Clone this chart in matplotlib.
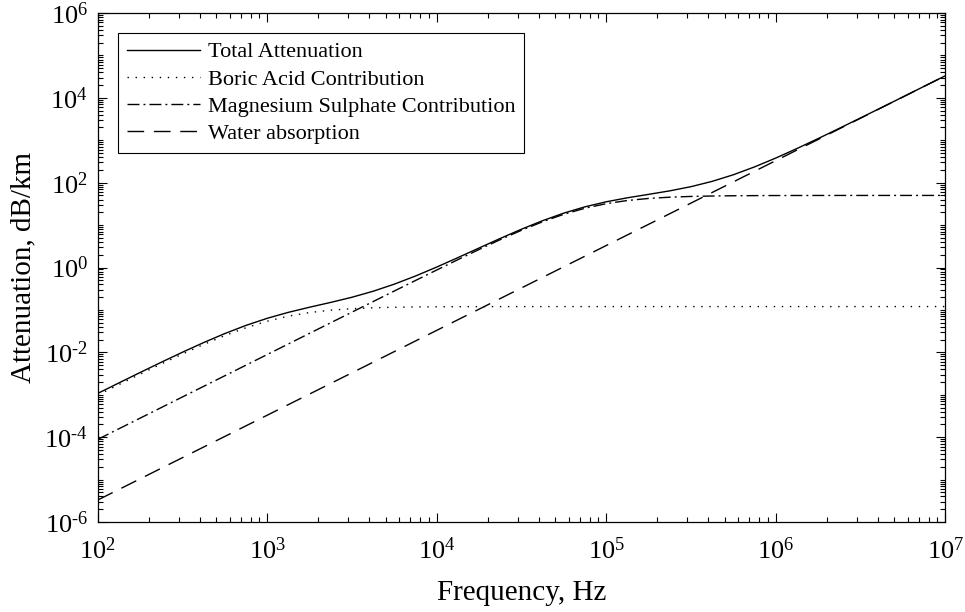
import numpy as np
import matplotlib
matplotlib.use("Agg")
import matplotlib.pyplot as plt
from matplotlib.ticker import LogLocator, FixedLocator, NullFormatter, FuncFormatter

plt.rcParams['font.family'] = ['Liberation Serif', 'DejaVu Serif']
plt.rcParams['mathtext.fontset'] = 'custom'
plt.rcParams['mathtext.rm'] = 'Liberation Serif'
plt.rcParams['mathtext.it'] = 'Liberation Serif:italic'

# Frequency samples (Hz), eighth-decade steps
freq = [100, 133.35, 177.83, 237.14, 316.23, 421.70, 562.34, 749.89,
        1000, 1333.5, 1778.3, 2371.4, 3162.3, 4217.0, 5623.4, 7498.9,
        1e4, 1.3335e4, 1.7783e4, 2.3714e4, 3.1623e4, 4.2170e4, 5.6234e4, 7.4989e4,
        1e5, 1.3335e5, 1.7783e5, 2.3714e5, 3.1623e5, 4.2170e5, 5.6234e5, 7.4989e5,
        1e6, 1.3335e6, 1.7783e6, 2.3714e6, 3.1623e6, 4.2170e6, 5.6234e6, 7.4989e6,
        1e7]

boric = [9.84e-4, 1.739e-3, 3.06e-3, 5.33e-3, 9.16e-3, 0.01538, 0.02487, 0.03807,
         0.0543, 0.0714, 0.0868, 0.0988, 0.1070, 0.1124, 0.1156, 0.1175,
         0.1186, 0.1192, 0.1195, 0.1197, 0.1199, 0.12, 0.12, 0.12,
         0.12, 0.12, 0.12, 0.12, 0.12, 0.12, 0.12, 0.12,
         0.12, 0.12, 0.12, 0.12, 0.12, 0.12, 0.12, 0.12,
         0.12]

mgso4 = [8.89e-5, 1.581e-4, 2.81e-4, 5.0e-4, 8.89e-4, 1.581e-3, 2.81e-3, 5.0e-3,
         8.89e-3, 0.01581, 0.0281, 0.04995, 0.08874, 0.1576, 0.2796, 0.495,
         0.8735, 1.533, 2.662, 4.545, 7.55, 12.01, 18.0, 25.0,
         32.0, 37.99, 42.45, 45.45, 47.34, 48.47, 49.13, 49.50,
         49.72, 49.84, 49.91, 49.95, 49.97, 49.98, 49.99, 50.0,
         50.0]

water = [3.3e-6, 5.87e-6, 1.043e-5, 1.856e-5, 3.3e-5, 5.87e-5, 1.043e-4, 1.856e-4,
         3.3e-4, 5.87e-4, 1.043e-3, 1.856e-3, 3.3e-3, 5.87e-3, 0.01043, 0.01856,
         0.033, 0.0587, 0.1043, 0.1856, 0.33, 0.587, 1.043, 1.856,
         3.3, 5.87, 10.43, 18.56, 33.0, 58.7, 104.3, 185.6,
         330.0, 587.0, 1043.0, 1856.0, 3300.0, 5870.0, 10430.0, 18560.0,
         33000.0]

total = [1.076e-3, 1.903e-3, 3.351e-3, 5.849e-3, 0.01008, 0.01702, 0.02778, 0.04326,
         0.06352, 0.0878, 0.1159, 0.1506, 0.1990, 0.2759, 0.4056, 0.6311,
         1.025, 1.711, 2.886, 4.850, 8.00, 12.72, 19.16, 26.98,
         35.42, 43.98, 53.0, 64.13, 80.46, 107.3, 153.6, 235.2,
         379.8, 637.0, 1093.0, 1906.0, 3350.0, 5920.0, 10480.0, 18610.0,
         33050.0]

labels = ["Total Attenuation", "Boric Acid Contribution",
          "Magnesium Sulphate Contribution", "Water absorption"]

fig = plt.figure(figsize=(9.65, 6.12), dpi=100)
ax = fig.add_axes([0.1013, 0.147, 0.9795 - 0.1013, 0.9788 - 0.147])

lw = 1.0
ax.plot(freq, total, color='black', lw=lw, linestyle='-', label=labels[0])
ax.plot(freq, boric, color='black', lw=lw, linestyle=(0, (1, 4.8)), label=labels[1])
ax.plot(freq, mgso4, color='black', lw=lw, linestyle=(0, (8.6, 2.9, 1.4, 2.9)), label=labels[2])
ax.plot(freq, water, color='black', lw=lw, linestyle=(0, (12, 7)), label=labels[3])

ax.set_xscale('log')
ax.set_yscale('log')
ax.set_xlim(1e2, 1e7)
ax.set_ylim(1e-6, 1e6)

def fmt(v, pos):
    e = int(round(np.log10(v)))
    if e < 0:
        return r'$\mathregular{10^{\text{-}%d}}$' % (-e)
    return r'$\mathregular{10^{%d}}$' % e

ax.xaxis.set_major_locator(FixedLocator([1e2, 1e3, 1e4, 1e5, 1e6, 1e7]))
ax.yaxis.set_major_locator(FixedLocator([10.0 ** k for k in range(-6, 7, 2)]))
ax.xaxis.set_major_formatter(FuncFormatter(fmt))
ax.yaxis.set_major_formatter(FuncFormatter(fmt))
ax.xaxis.set_minor_locator(LogLocator(base=10, subs=np.arange(2, 10), numticks=50))
ax.yaxis.set_minor_locator(LogLocator(base=10, subs=np.arange(1, 10), numticks=50))
ax.xaxis.set_minor_formatter(NullFormatter())
ax.yaxis.set_minor_formatter(NullFormatter())

ax.tick_params(which='both', direction='in', top=True, right=True, width=0.8)
ax.tick_params(which='major', length=6.5, labelsize=19)
ax.tick_params(axis='x', which='major', pad=11)
ax.tick_params(axis='y', which='major', pad=7)
ax.tick_params(which='minor', length=3.5)
for s in ax.spines.values():
    s.set_linewidth(0.9)

ax.set_xlabel("Frequency, Hz", fontsize=21, labelpad=12)
ax.set_ylabel("Attenuation, dB/km", fontsize=21, labelpad=6)

leg = ax.legend(loc='upper left', fontsize=16, frameon=True, fancybox=False,
                edgecolor='black', framealpha=1, handlelength=3.3,
                handletextpad=0.36, labelspacing=0.3, borderaxespad=0.9,
                borderpad=0.4)
leg.get_frame().set_linewidth(0.8)

fig.savefig("out.png", dpi=100)
